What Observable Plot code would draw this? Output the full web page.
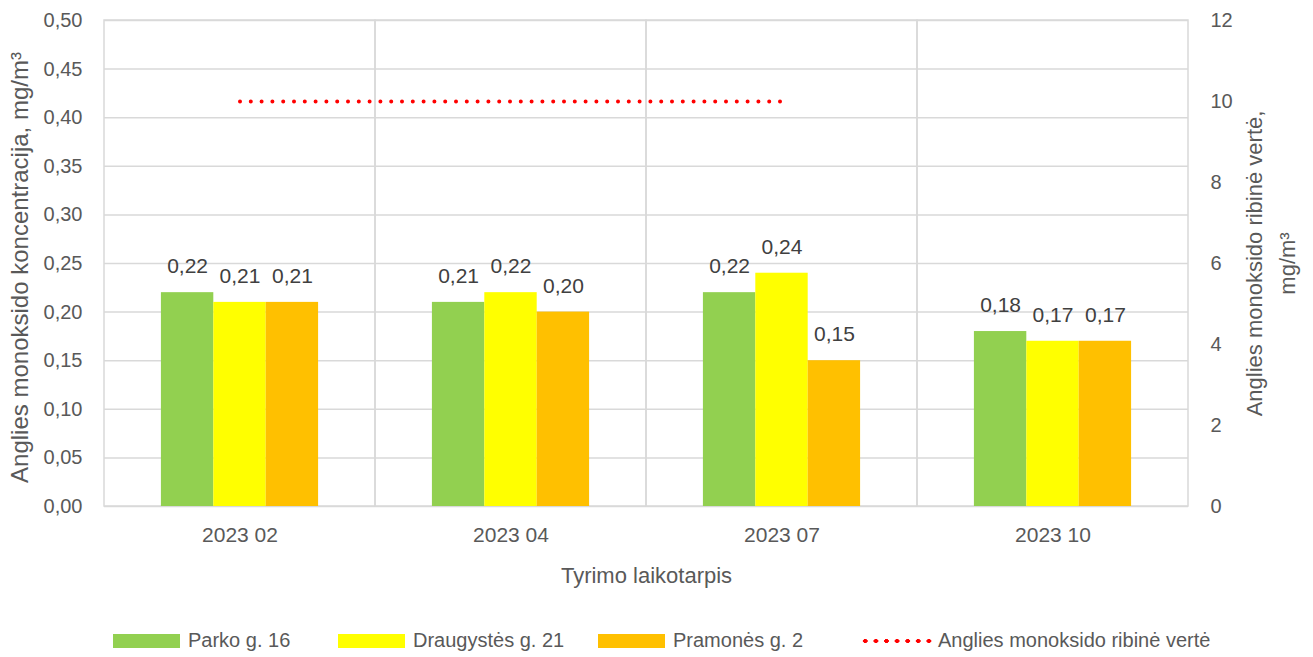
<!DOCTYPE html>
<html><head><meta charset="utf-8">
<script src="https://cdn.jsdelivr.net/npm/d3@7"></script>
<script src="https://cdn.jsdelivr.net/npm/@observablehq/plot@0.6"></script>
<style>
body{margin:0;background:#fff;font-family:"Liberation Sans",Arial,sans-serif;color:#595959;}
#chart svg{display:block;}
#legend{position:relative;height:57px;width:1313px;font-size:20px;}
.item{position:absolute;top:29px;display:flex;align-items:center;white-space:nowrap;}
.sw{width:67px;height:14px;margin-right:8px;}
.dots{width:74px;height:4px;margin-right:4px;background-image:radial-gradient(circle,#ff0000 2px,transparent 2.3px);background-size:10.6px 4px;background-repeat:repeat-x;}
</style></head><body>
<div id="chart"></div>
<div id="legend"></div>
<script>
const categories = ["2023 02", "2023 04", "2023 07", "2023 10"];
const seriesNames = ["Parko g. 16", "Draugystės g. 21", "Pramonės g. 2"];
const parko = [0.22, 0.21, 0.22, 0.18];
const draugystes = [0.21, 0.22, 0.24, 0.17];
const pramones = [0.21, 0.20, 0.15, 0.17];
const seriesColors = ["#92D050", "#FFFF00", "#FFC000"];
const limitName = "Anglies monoksido ribinė vertė";
const limitCategories = ["2023 02", "2023 04", "2023 07"];
const limitValues = [10, 10, 10];
const leftTicks = [0, 0.05, 0.10, 0.15, 0.20, 0.25, 0.30, 0.35, 0.40, 0.45, 0.50];
const rightTicks = [0, 2, 4, 6, 8, 10, 12];
const rightMax = 12, leftMax = 0.5;
const ratio = leftMax / rightMax;

const W = 1313, H = 600;
const mL = 104, mR = 125, mT = 20, mB = 94;
const band = (W - mL - mR) / categories.length;
const groupW = band * 0.58;
const barW = groupW / 3;
const sideGap = (band - groupW) / 2;

const comma = v => d3.format(".2f")(v).replace(".", ",");
const values = [parko, draugystes, pramones];
const rows = values.map(vals => categories.map((c, j) => ({cat: c, value: vals[j]})));

const marks = [
  Plot.gridY(leftTicks, {stroke: "#d9d9d9", strokeOpacity: 1, strokeWidth: 1.5}),
  Plot.barY(categories, {x: d => d, y1: 0, y2: leftMax, fill: "none", stroke: "#d9d9d9", strokeWidth: 1.5}),
];
rows.forEach((r, i) => {
  marks.push(Plot.barY(r, {x: "cat", y: "value", fill: seriesColors[i],
    insetLeft: sideGap + i * barW, insetRight: band - sideGap - (i + 1) * barW}));
});
rows.forEach((r, i) => {
  marks.push(Plot.text(r, {x: "cat", y: "value", text: d => comma(d.value),
    dx: (i - 1) * barW, dy: -26, fill: "#404040", fontSize: 21}));
});
marks.push(
  Plot.lineY(limitCategories.map((c, j) => ({cat: c, v: limitValues[j] * ratio})),
    {x: "cat", y: "v", stroke: "#ff0000", strokeWidth: 4, strokeDasharray: "0 10.8", strokeLinecap: "round"}),
  Plot.axisY(leftTicks, {anchor: "left", tickSize: 0, tickPadding: 22, tickFormat: comma, label: null, fontSize: 20}),
  Plot.axisY(rightTicks.map(v => v * ratio), {anchor: "right", tickSize: 0, tickPadding: 22,
    tickFormat: d => String(Math.round(d / ratio)), label: null, fontSize: 20}),
  Plot.axisX({tickSize: 0, tickPadding: 21, label: null, fontSize: 21}),
  Plot.text(["Tyrimo laikotarpis"], {frameAnchor: "bottom", dy: 76, fontSize: 22, fill: "#595959"}),
  Plot.text(["Anglies monoksido koncentracija, mg/m³"], {frameAnchor: "left", textAnchor: "middle", dx: -84, dy: 4, rotate: -90, fontSize: 24, fill: "#595959"}),
  Plot.text(["Anglies monoksido ribinė vertė,\nmg/m³"], {frameAnchor: "right", textAnchor: "middle", dx: 79, rotate: -90, fontSize: 22, lineHeight: 1.5, fill: "#595959"})
);

const chart = Plot.plot({
  width: W, height: H,
  marginLeft: mL, marginRight: mR, marginTop: mT, marginBottom: mB,
  style: {fontFamily: '"Liberation Sans",Arial,sans-serif', fontSize: "20px", color: "#595959", background: "#fff"},
  x: {type: "band", domain: categories, padding: 0, axis: null},
  y: {domain: [0, leftMax], axis: null},
  marks
});
document.getElementById("chart").appendChild(chart);

const legend = document.getElementById("legend");
const lefts = [113, 338, 598, 860];
seriesNames.concat([limitName]).forEach((name, i) => {
  const it = document.createElement("div");
  it.className = "item";
  it.style.left = lefts[i] + "px";
  const sw = document.createElement("div");
  if (i < 3) { sw.className = "sw"; sw.style.background = seriesColors[i]; }
  else sw.className = "dots";
  const tx = document.createElement("span");
  tx.textContent = name;
  it.appendChild(sw); it.appendChild(tx);
  legend.appendChild(it);
});
</script>
</body></html>
